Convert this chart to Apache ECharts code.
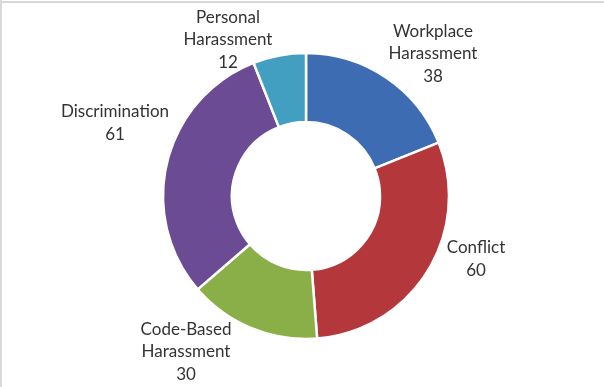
<!DOCTYPE html>
<html>
<head>
<meta charset="utf-8">
<script src="https://cdn.jsdelivr.net/npm/echarts@6/dist/echarts.min.js"></script>
<style>
  html, body { margin: 0; padding: 0; background: #fff; }
  #chart { width: 604px; height: 387px; }
</style>
</head>
<body>
<div id="chart"></div>
<script>
// ---- Data ----
const categories = ['Workplace\nHarassment', 'Conflict', 'Code-Based\nHarassment', 'Discrimination', 'Personal\nHarassment'];
const values = [38, 60, 30, 61, 12];

// ---- Styles / layout (not data) ----
const colors = ['#3E6CB2', '#B4383B', '#8AAF49', '#6B4C94', '#439FC2'];
const labelAnchors = [[433, 54], [476, 259], [186, 352], [115, 123], [228, 40]];

const chart = echarts.init(document.getElementById('chart'), null, { renderer: 'canvas' });

const option = {
  animation: false,
  backgroundColor: '#ffffff',
  graphic: [
    { type: 'rect', shape: { x: 0, y: 1, width: 604, height: 2 }, style: { fill: '#d9d9d9' }, silent: true },
    { type: 'rect', shape: { x: 0, y: 0, width: 2, height: 387 }, style: { fill: '#d9d9d9' }, silent: true }
  ],
  series: [{
    type: 'pie',
    center: [306, 196],
    radius: [74, 143],
    startAngle: 90,
    clockwise: true,
    avoidLabelOverlap: false,
    itemStyle: { borderColor: '#ffffff', borderWidth: 2.5 },
    label: {
      show: true,
      position: 'outside',
      formatter: p => p.name + '\n' + p.value,
      fontFamily: 'Lato',
      fontSize: 17,
      lineHeight: 22.5,
      color: '#333333',
      align: 'center'
    },
    labelLine: { show: false },
    labelLayout: function (params) {
      const a = labelAnchors[params.dataIndex];
      return { x: a[0], y: a[1], align: 'center', verticalAlign: 'middle' };
    },
    emphasis: { disabled: true },
    data: categories.map((c, i) => ({ name: c, value: values[i], itemStyle: { color: colors[i] } }))
  }]
};
chart.setOption(option);
</script>
</body>
</html>
